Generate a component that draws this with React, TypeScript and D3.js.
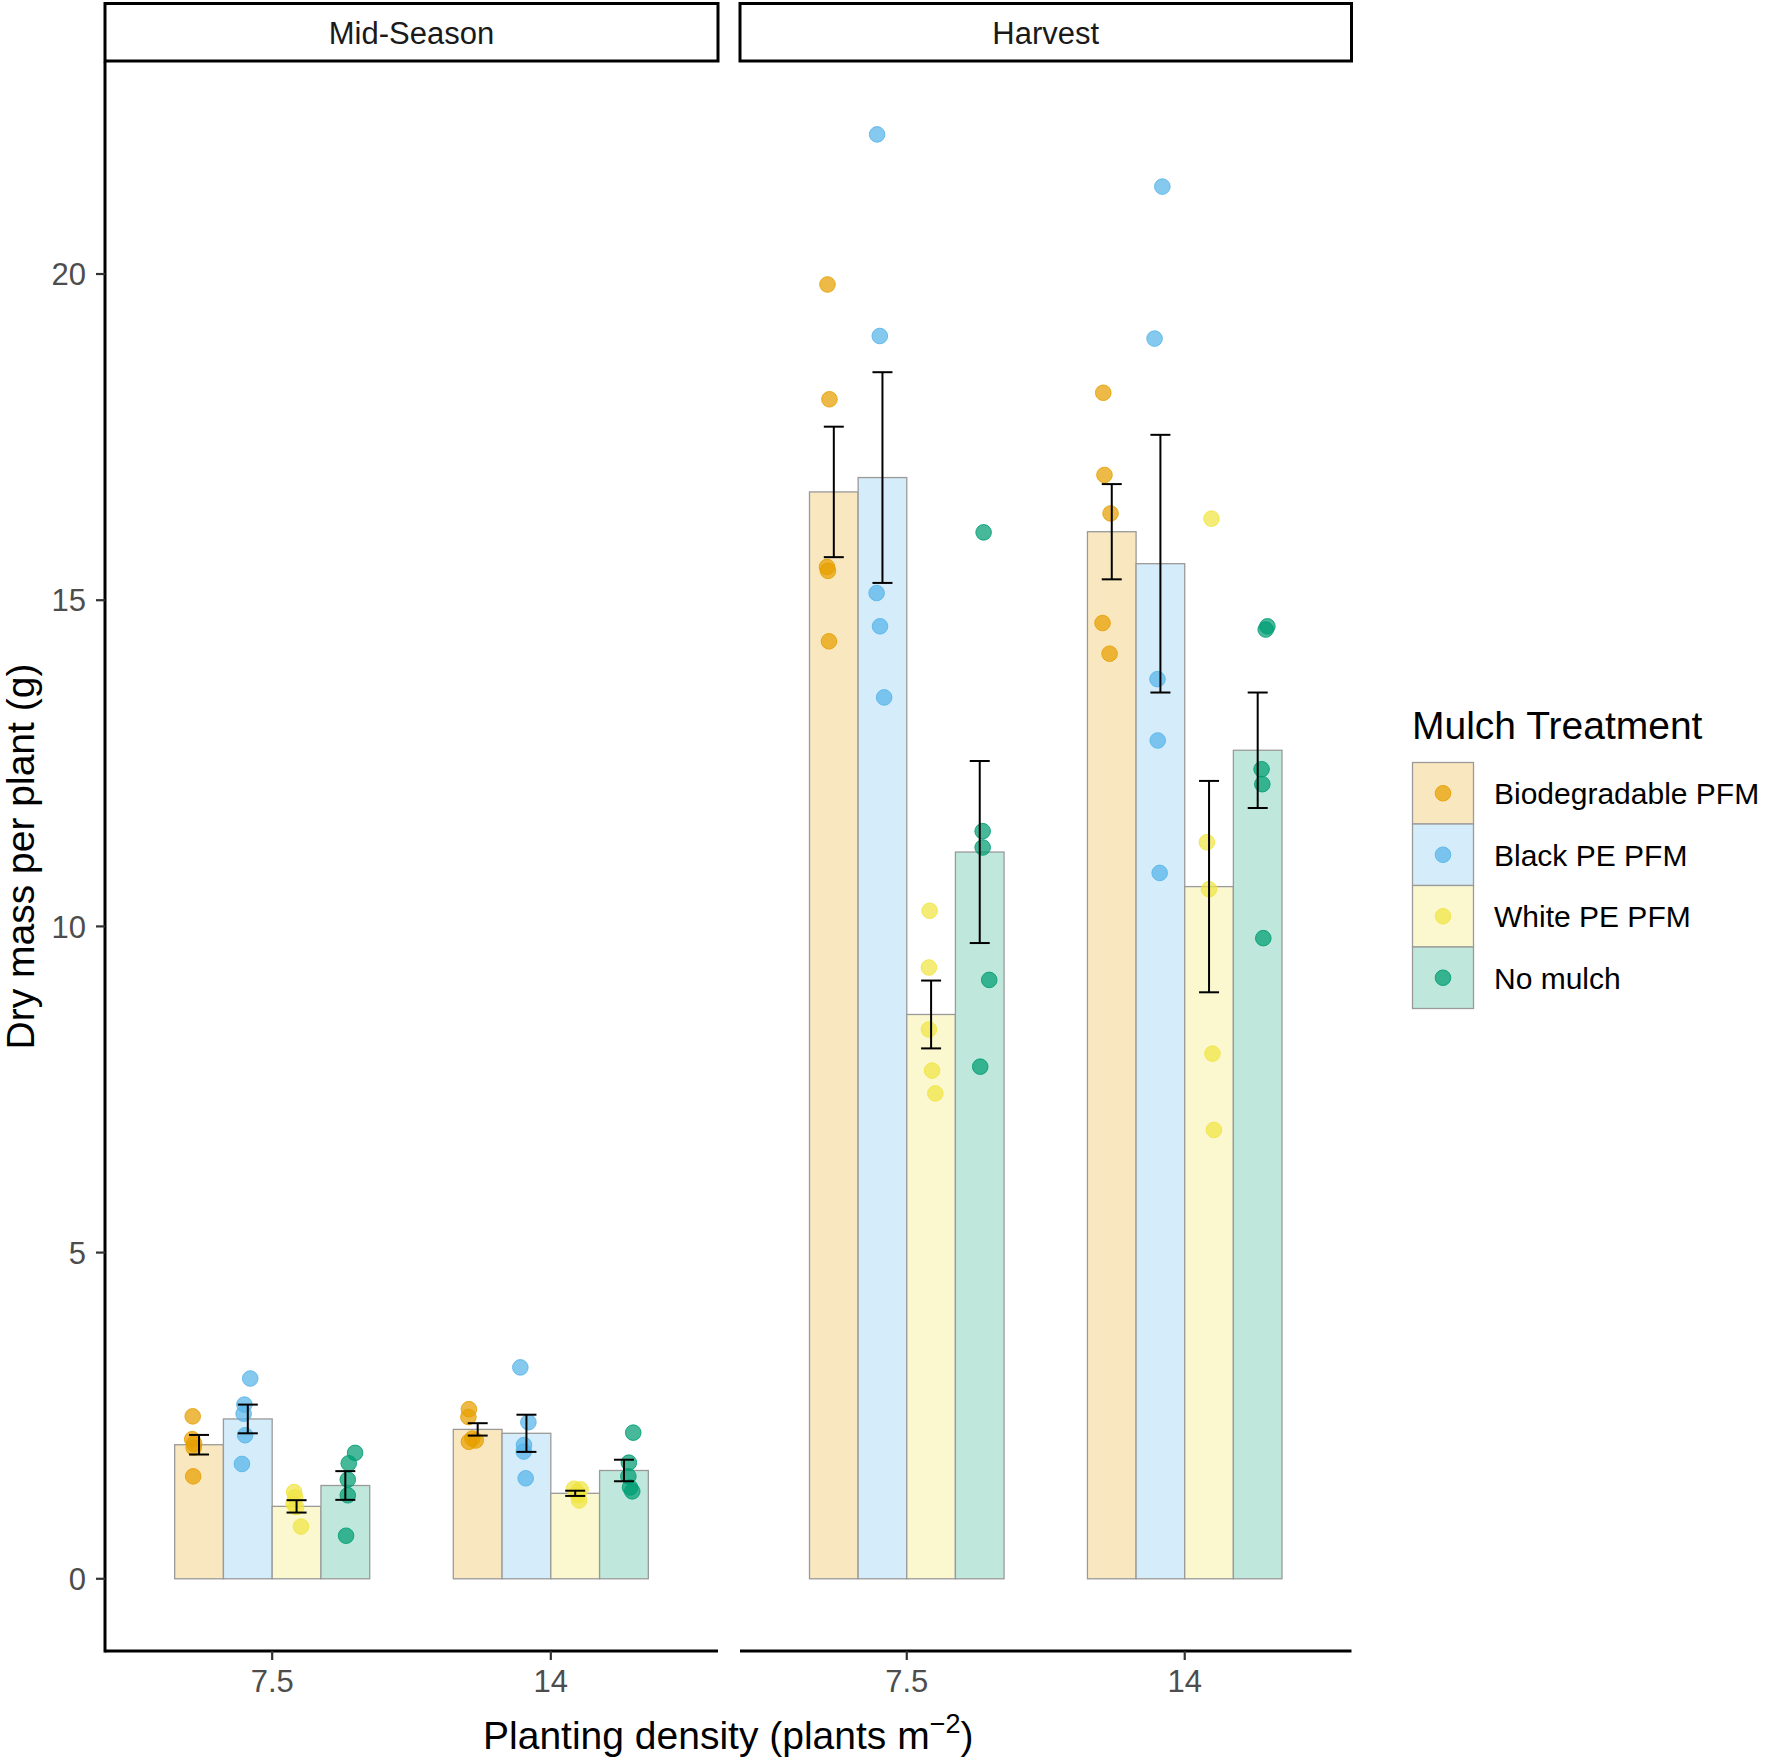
import { scaleLinear, scalePoint, scaleBand } from "d3"

// Mulch treatments and panels
const treatments = ["Biodegradable PFM", "Black PE PFM", "White PE PFM", "No mulch"]
const stages = ["Mid-Season", "Harvest"]
const densities = ["7.5", "14"]
const yTicks = [0, 5, 10, 15, 20]

const colors = ["#E69F00", "#56B4E9", "#F0E442", "#009E73"]

// bar heights (means) per stage -> density -> treatment
const meanMid = [
  [2.055, 2.45, 1.11, 1.43],
  [2.29, 2.23, 1.31, 1.66],
]
const meanHarvest = [
  [16.66, 16.88, 8.65, 11.14],
  [16.05, 15.56, 10.61, 12.7],
]

// standard errors (half error bar)
const seMid = [
  [0.15, 0.22, 0.095, 0.22],
  [0.095, 0.285, 0.04, 0.165],
]
const seHarvest = [
  [1.0, 1.615, 0.52, 1.395],
  [0.73, 1.975, 1.62, 0.885],
]

// individual plants
const ptsMid = [
  [
    [2.49, 2.14, 2.07, 2.01, 1.57],
    [3.07, 2.67, 2.53, 2.2, 1.76],
    [1.33, 1.25, 1.15, 1.1, 0.8],
    [1.93, 1.77, 1.52, 1.28, 0.66],
  ],
  [
    [2.6, 2.48, 2.15, 2.12, 2.1],
    [3.24, 2.4, 2.05, 1.95, 1.54],
    [1.38, 1.37, 1.33, 1.28, 1.2],
    [2.24, 1.78, 1.57, 1.4, 1.34],
  ],
]
const ptsHarvest = [
  [
    [19.84, 18.08, 15.51, 15.45, 14.37],
    [22.14, 19.05, 15.11, 14.6, 13.51],
    [10.24, 9.37, 8.42, 7.79, 7.44],
    [16.04, 11.46, 11.21, 9.18, 7.85],
  ],
  [
    [18.18, 16.92, 16.33, 14.65, 14.18],
    [21.34, 19.01, 13.79, 12.85, 10.82],
    [16.25, 11.29, 10.57, 8.05, 6.88],
    [14.6, 14.55, 12.41, 12.18, 9.82],
  ],
]

// horizontal jitter, as a fraction of bar width
const jitMid = [
  [
    [-0.13, -0.14, -0.1, -0.11, -0.12],
    [0.05, -0.07, -0.085, -0.055, -0.12],
    [-0.05, -0.03, -0.06, -0.01, 0.09],
    [0.2, 0.07, 0.05, 0.05, 0.015],
  ],
  [
    [-0.18, -0.19, -0.11, -0.04, -0.18],
    [-0.125, 0.04, -0.05, -0.055, -0.015],
    [-0.025, 0.11, 0.04, 0.06, 0.08],
    [0.19, 0.1, 0.09, 0.125, 0.17],
  ],
]
const jitHarvest = [
  [
    [-0.13, -0.09, -0.14, -0.12, -0.1],
    [-0.11, -0.055, -0.12, -0.05, 0.035],
    [-0.03, -0.045, -0.045, 0.02, 0.087],
    [0.08, 0.06, 0.06, 0.195, 0.01],
  ],
  [
    [-0.175, -0.15, -0.025, -0.19, -0.045],
    [0.04, -0.12, -0.06, -0.055, -0.015],
    [0.05, -0.045, 0, 0.07, 0.1],
    [0.2, 0.165, 0.08, 0.095, 0.115],
  ],
]

const stageData = [
  { means: meanMid, se: seMid, pts: ptsMid, jit: jitMid },
  { means: meanHarvest, se: seHarvest, pts: ptsHarvest, jit: jitHarvest },
]

const W = 1772
const H = 1761
const FONT = "'Liberation Sans', Arial, sans-serif"

const panelX = [
  [105, 718],
  [740, 1351.5],
]
const top = 62
const bottom = 1651
const stripTop = 3.5

function lighten(hex: string, a: number) {
  const n = parseInt(hex.slice(1), 16)
  const c = [(n >> 16) & 255, (n >> 8) & 255, n & 255].map((v) => Math.round(v * a + 255 * (1 - a)))
  return `rgb(${c[0]},${c[1]},${c[2]})`
}

export default function App() {
  const y = scaleLinear().domain([-1.107, 23.25]).range([bottom, top])

  return (
    <svg
      width={W}
      height={H}
      style={{ position: "absolute", left: 0, top: 0, background: "#fff" }}
      fontFamily={FONT}
    >
      {stages.map((stage, si) => {
        const [x0, x1] = panelX[si]
        const x = scalePoint().domain(densities).range([x0, x1]).padding(0.6)
        const step = x.step()
        const inner = scaleBand()
          .domain(treatments)
          .range([-0.35 * step, 0.35 * step])
          .padding(0)
        const bw = inner.bandwidth()
        const d = stageData[si]
        return (
          <g key={stage}>
            {/* strip */}
            <rect
              x={x0}
              y={stripTop}
              width={x1 - x0}
              height={top - stripTop - 1}
              fill="#fff"
              stroke="#000"
              strokeWidth={3}
            />
            <text x={(x0 + x1) / 2} y={44} textAnchor="middle" fontSize={31} fill="#1a1a1a">
              {stage}
            </text>

            {/* bars */}
            {densities.map((den, di) =>
              treatments.map((t, ti) => {
                const bx = x(den)! + inner(t)!
                return (
                  <rect
                    key={`b${di}${ti}`}
                    x={bx}
                    y={y(d.means[di][ti])}
                    width={bw}
                    height={y(0) - y(d.means[di][ti])}
                    fill={lighten(colors[ti], 0.25)}
                    stroke="#9a9a9a"
                    strokeWidth={1.3}
                  />
                )
              })
            )}

            {/* points */}
            {densities.map((den, di) =>
              treatments.map((t, ti) =>
                d.pts[di][ti].map((v, pi) => {
                  const cx = x(den)! + inner(t)! + bw / 2 + d.jit[di][ti][pi] * bw
                  return (
                    <circle
                      key={`p${di}${ti}${pi}`}
                      cx={cx}
                      cy={y(v)}
                      r={7.8}
                      fill={colors[ti]}
                      fillOpacity={0.72}
                      stroke={colors[ti]}
                      strokeOpacity={0.85}
                      strokeWidth={1}
                    />
                  )
                })
              )
            )}

            {/* error bars */}
            {densities.map((den, di) =>
              treatments.map((t, ti) => {
                const cx = x(den)! + inner(t)! + bw / 2
                const m = d.means[di][ti]
                const s = d.se[di][ti]
                const hw = 10
                return (
                  <g key={`e${di}${ti}`} stroke="#000" strokeWidth={2}>
                    <line x1={cx} x2={cx} y1={y(m + s)} y2={y(m - s)} />
                    <line x1={cx - hw} x2={cx + hw} y1={y(m + s)} y2={y(m + s)} />
                    <line x1={cx - hw} x2={cx + hw} y1={y(m - s)} y2={y(m - s)} />
                  </g>
                )
              })
            )}

            {/* x axis */}
            <line x1={x0} x2={x1} y1={bottom} y2={bottom} stroke="#000" strokeWidth={3} />
            {densities.map((den) => (
              <g key={den} transform={`translate(${x(den)},${bottom})`}>
                <line y1={0} y2={9} stroke="#333" strokeWidth={2.2} />
                <text y={41} textAnchor="middle" fontSize={31} fill="#4d4d4d">
                  {den}
                </text>
              </g>
            ))}
          </g>
        )
      })}

      {/* y axis */}
      <line x1={105} x2={105} y1={top} y2={bottom + 1.5} stroke="#000" strokeWidth={3} />
      {yTicks.map((t) => (
        <g key={t} transform={`translate(105,${y(t)})`}>
          <line x1={-9} x2={0} stroke="#333" strokeWidth={2.2} />
          <text x={-19} dy="0.36em" textAnchor="end" fontSize={31} fill="#4d4d4d">
            {t}
          </text>
        </g>
      ))}

      {/* axis titles */}
      <text x={(105 + 1351.5) / 2} y={1749} textAnchor="middle" fontSize={39} fill="#000">
        Planting density (plants m
        <tspan fontSize={27} dy={-16}>
          −2
        </tspan>
        <tspan dy={16}>)</tspan>
      </text>
      <text
        transform={`translate(34,${(top + bottom) / 2}) rotate(-90)`}
        textAnchor="middle"
        fontSize={39}
        fill="#000"
      >
        Dry mass per plant (g)
      </text>

      {/* legend */}
      <text x={1412} y={739} fontSize={39} fill="#000">
        Mulch Treatment
      </text>
      {treatments.map((t, i) => {
        const ky = 762.5 + i * 61.5
        return (
          <g key={t}>
            <rect
              x={1412.5}
              y={ky}
              width={61}
              height={61.5}
              fill={lighten(colors[i], 0.25)}
              stroke="#9a9a9a"
              strokeWidth={1.3}
            />
            <circle
              cx={1443}
              cy={ky + 30.75}
              r={7.8}
              fill={colors[i]}
              fillOpacity={0.72}
              stroke={colors[i]}
              strokeOpacity={0.85}
            />
            <text x={1494} y={ky + 30.75} dy="0.36em" fontSize={30} fill="#000">
              {t}
            </text>
          </g>
        )
      })}
    </svg>
  )
}
